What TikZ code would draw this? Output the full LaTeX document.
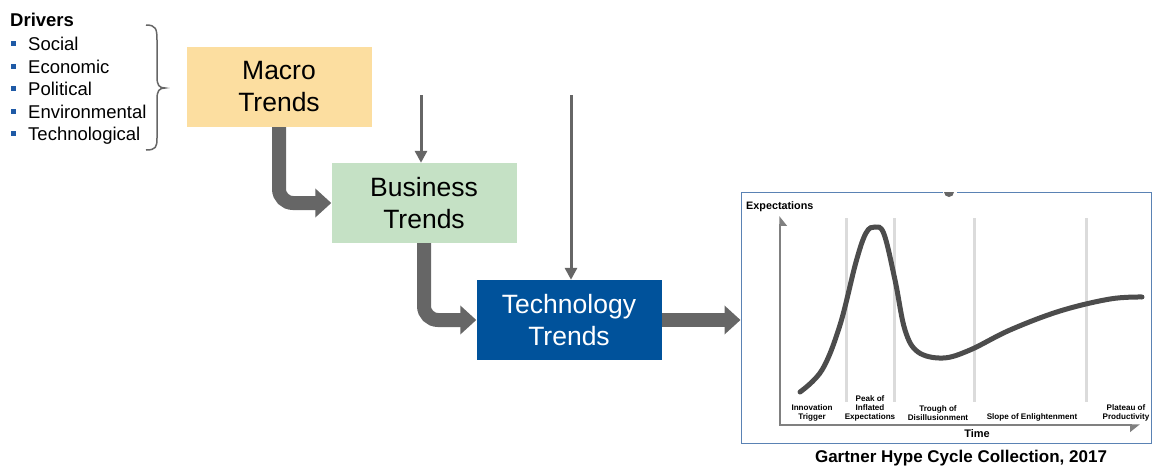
\documentclass[tikz,border=0pt]{standalone}
\usepackage{fontspec}
\setmainfont{Liberation Sans}
\usepackage{tikz}
\usetikzlibrary{arrows.meta}

\definecolor{macrofill}{RGB}{252,222,160}
\definecolor{bizfill}{RGB}{197,225,197}
\definecolor{techfill}{RGB}{0,82,155}
\definecolor{arrowgray}{RGB}{102,102,102}
\definecolor{framecol}{RGB}{90,130,180}
\definecolor{bulletblue}{RGB}{31,90,166}

\tikzset{
  trendbox/.style={minimum width=185pt, minimum height=80pt, inner sep=0pt, align=center,
    font=\fontsize{26.5}{32}\selectfont},
  fatarrow/.style={arrowgray, line width=14pt, rounded corners=14pt,
    -{Triangle[length=16pt,width=28pt]}},
  thinarrow/.style={arrowgray, line width=3pt, -{Triangle[length=12pt,width=12pt]}},
  driver/.style={anchor=base west, inner sep=0pt, font=\fontsize{18.5}{22}\selectfont},
  phase/.style={anchor=south, inner sep=0pt, align=center,
    font=\fontsize{8.1}{9}\selectfont\bfseries},
}

\begin{document}
\begin{tikzpicture}[x=1pt, y=-1pt]
\useasboundingbox (0,0) rectangle (1152,469);

% Drivers
\node[driver, font=\fontsize{18.5}{22}\selectfont\bfseries] (drivers) at (10,26) {Drivers};
\foreach \name/\yy in {Social/50, Economic/73, Political/95, Environmental/118, Technological/140} {
  \fill[bulletblue] (10.5,\yy-9) rectangle (15.5,\yy-4);
  \node[driver] (drv-\name) at (28,\yy) {\name};
}

% Brace
\draw[arrowgray, line width=1.5pt] (146,25) .. controls (156,25) and (157,29) .. (157,40)
  -- (157,77) .. controls (157,85) and (159,88) .. (165,88)
  .. controls (159,88) and (157,91) .. (157,99)
  -- (157,138) .. controls (157,147) and (156,150) .. (146,150);

% Boxes
\node[trendbox, fill=macrofill] (macro) at (279,87) {Macro\\Trends};
\node[trendbox, fill=bizfill] (business) at (424,203) {Business\\Trends};
\node[trendbox, fill=techfill, text=white] (tech) at (569,320) {Technology\\Trends};

% Chart frame
\node[draw=framecol, line width=1pt, minimum width=410pt, minimum height=251pt, inner sep=0pt] (chart) at (946,317.5) {};
\fill[white] (943,191) rectangle (957,193.5);
\fill[arrowgray] (944,192) arc (180:0:5);

% Arrows
\draw[fatarrow] (macro.south) |- (business.west);
\draw[fatarrow] (business.south) |- (tech.west);
\draw[fatarrow] (tech.east) -- (tech.east -| chart.west);
\coordinate (bizin) at (421,95);
\coordinate (techin) at (571,95);
\draw[thinarrow] (bizin) -- (bizin |- business.north);
\draw[thinarrow] (techin) -- (techin |- tech.north);

% Hype cycle
\foreach \xx in {846, 894, 974, 1086}
  \draw[black!14, line width=3pt] (\xx,218) -- (\xx,402);
\draw[black!50, line width=1.5pt, {Triangle[length=9pt,width=14pt,harpoon,right]}-{Triangle[length=9pt,width=14pt,harpoon,right]}]
  (780,216) -- (780,425) -- (1140,425);
\draw[black!70, line width=5pt, line cap=round] plot[smooth, tension=0.6] coordinates {
  (800,392) (822,370) (840,325) (856,262) (866,233) (875,227) (884,234) (895,280)
  (905,330) (918,352) (943,358) (970,350) (1010,330) (1060,311) (1110,299) (1142,297)};

\node[anchor=west, inner sep=0pt, font=\fontsize{10.8}{12}\selectfont\bfseries] (expect) at (746,207) {Expectations};
\node[inner sep=0pt, font=\fontsize{11}{13}\selectfont\bfseries] (time) at (977,434) {Time};
\node[phase] (innov) at (812,421) {Innovation\\Trigger};
\node[phase] (peak) at (870,421) {Peak of\\Inflated\\Expectations};
\node[phase] (trough) at (938,421) {Trough of\\Disillusionment};
\node[phase] (slope) at (1032,421) {Slope of Enlightenment};
\node[phase] (plateau) at (1126,421) {Plateau of\\Productivity};
\node[inner sep=0pt, font=\fontsize{17}{20}\selectfont\bfseries] (caption) at (961,458) {Gartner Hype Cycle Collection, 2017};

\end{tikzpicture}
\end{document}
